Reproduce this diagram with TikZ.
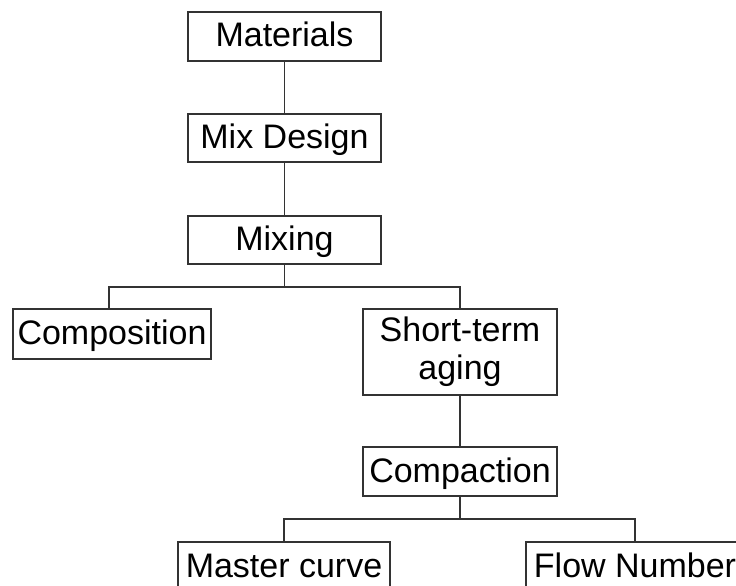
\documentclass[tikz,border=0pt]{standalone}
\usepackage{fontspec}
\setmainfont{Liberation Sans}
\begin{document}
\begin{tikzpicture}[x=1pt,y=-1pt,
  box/.style={draw=black!80, line width=1.1pt, inner sep=0pt, align=center, font=\fontsize{34}{38}\selectfont},
  single/.style={box, text height=25pt, text depth=4pt},
  link/.style={draw=black!80, line width=1.1pt}]
\useasboundingbox (0,0) rectangle (736,586);
\clip (0,0) rectangle (736,586);
\node[single, minimum width=193pt, minimum height=49pt] (materials) at (284.5,36.5) {Materials};
\node[single, minimum width=193pt, minimum height=48pt] (mixdesign) at (284.5,138) {Mix Design};
\node[single, minimum width=193pt, minimum height=48pt] (mixing) at (284.5,240) {Mixing};
\node[single, minimum width=198pt, minimum height=50pt] (composition) at (112,334) {Composition};
\node[box, minimum width=194pt, minimum height=86pt] (shortterm) at (460,352) {Short-term\\aging};
\node[single, minimum width=194pt, minimum height=49pt] (compaction) at (460,471.5) {Compaction};
\node[single, minimum width=212pt, minimum height=49pt] (master) at (284,566.5) {Master curve};
\node[single, minimum width=218pt, minimum height=49pt] (flow) at (635,566.5) {Flow Number};
\coordinate (bus1) at (284.5,287);
\coordinate (bus2) at (460,519);
\draw[link] (materials) -- (mixdesign);
\draw[link] (mixdesign) -- (mixing);
\draw[link] (mixing.south) -- (bus1);
\draw[link] ([xshift=-3pt]composition.north) |- (bus1) -| (shortterm.north);
\draw[link] (shortterm) -- (compaction);
\draw[link] (compaction.south) -- (bus2);
\draw[link] (master.north) |- (bus2) -| (flow.north);
\end{tikzpicture}
\end{document}
